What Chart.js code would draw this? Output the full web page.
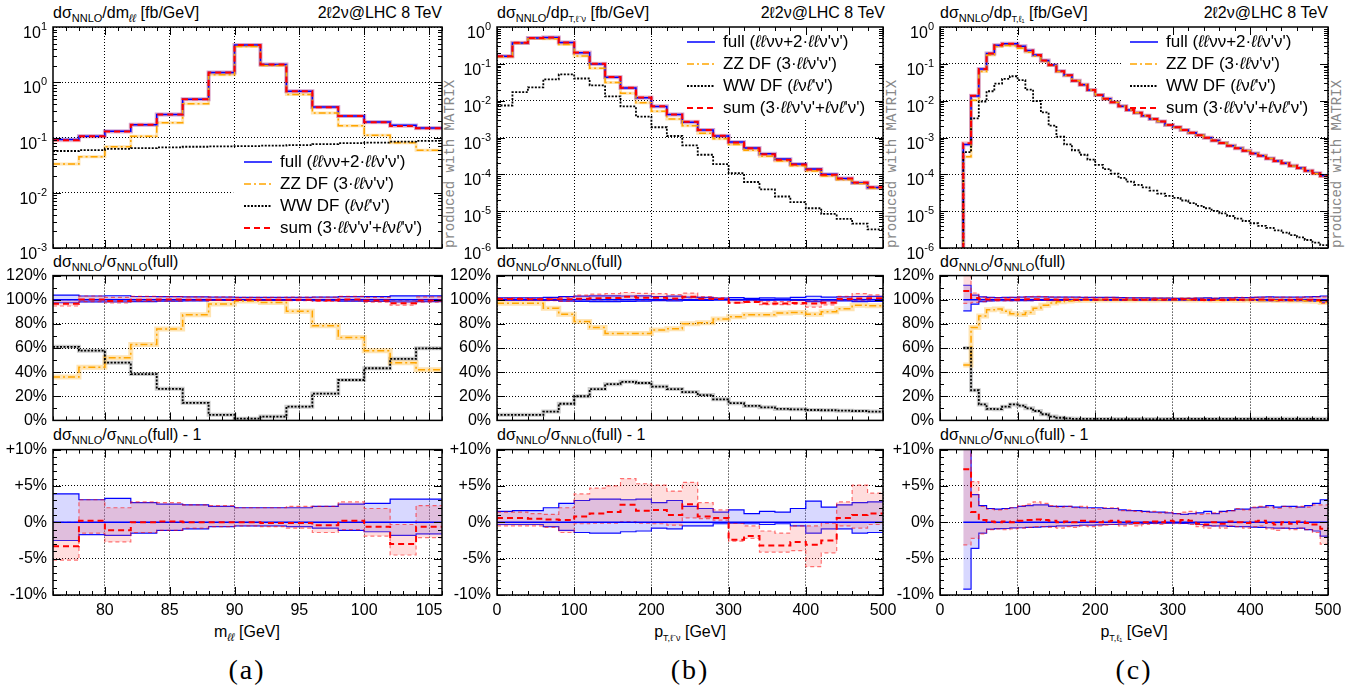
<!DOCTYPE html>
<html lang="en">
<head>
<meta charset="UTF-8">
<title>2ℓ2ν@LHC 8 TeV</title>
<script src="https://cdn.jsdelivr.net/npm/chart.js"></script>
<style>
    body { margin: 0; background: #fff; }
    #fig { position: relative; width: 1368px; height: 693px; overflow: hidden;
           font-family: "Liberation Sans", Arial, sans-serif; color: #000; }
    #fig canvas { position: absolute; }
    .txt { position: absolute; white-space: nowrap; font-size: 16px; line-height: 16px; }
    .txt .lo { font-size: 11px; position: relative; top: 4px; }
    .txt .lo2 { font-size: 9px; position: relative; top: 4px; }
    .mid { transform: translateX(-50%); }
    .tag { position: absolute; white-space: nowrap; transform: translateX(-50%);
           font-family: "Liberation Serif", "DejaVu Serif", serif; font-size: 28px; line-height: 28px; letter-spacing: 2px; }
    .matrix { position: absolute; white-space: nowrap; transform-origin: 0 0; transform: rotate(-90deg);
              font-family: "Liberation Mono", "DejaVu Sans Mono", monospace; font-size: 14px; line-height: 12px; color: #888; }
    .key { position: absolute; font-size: 17px; z-index: 2; }
    .key div { height: 22px; display: flex; align-items: center; white-space: nowrap; }
    .key svg { margin-right: 8px; }
</style>
</head>
<body>
<div id="fig">
    <div class="txt" style="left:53px;top:5px">dσ<span class="lo">NNLO</span>/dm<span class="lo"><i>ℓℓ</i></span> [fb/GeV]</div>
    <div class="txt" style="left:497px;top:5px">dσ<span class="lo">NNLO</span>/dp<span class="lo2">T,ℓ⁻ν</span> [fb/GeV]</div>
    <div class="txt" style="left:940px;top:5px">dσ<span class="lo">NNLO</span>/dp<span class="lo2">T,ℓ₁</span> [fb/GeV]</div>
    <div class="txt" style="right:926px;top:5px">2ℓ2ν@LHC 8 TeV</div>
    <div class="txt" style="right:483px;top:5px">2ℓ2ν@LHC 8 TeV</div>
    <div class="txt" style="right:40px;top:5px">2ℓ2ν@LHC 8 TeV</div>

    <div class="txt" style="left:53px;top:254px">dσ<span class="lo">NNLO</span>/σ<span class="lo">NNLO</span>(full)</div>
    <div class="txt" style="left:497px;top:254px">dσ<span class="lo">NNLO</span>/σ<span class="lo">NNLO</span>(full)</div>
    <div class="txt" style="left:940px;top:254px">dσ<span class="lo">NNLO</span>/σ<span class="lo">NNLO</span>(full)</div>

    <div class="txt" style="left:53px;top:427px">dσ<span class="lo">NNLO</span>/σ<span class="lo">NNLO</span>(full) - 1</div>
    <div class="txt" style="left:497px;top:427px">dσ<span class="lo">NNLO</span>/σ<span class="lo">NNLO</span>(full) - 1</div>
    <div class="txt" style="left:940px;top:427px">dσ<span class="lo">NNLO</span>/σ<span class="lo">NNLO</span>(full) - 1</div>

    <div class="txt mid" style="left:247px;top:624px">m<span class="lo"><i>ℓℓ</i></span> [GeV]</div>
    <div class="txt mid" style="left:690px;top:624px">p<span class="lo2">T,ℓ⁻ν</span> [GeV]</div>
    <div class="txt mid" style="left:1134px;top:624px">p<span class="lo2">T,ℓ₁</span> [GeV]</div>

    <div class="tag" style="left:247px;top:656px">(a)</div>
    <div class="tag" style="left:690px;top:656px">(b)</div>
    <div class="tag" style="left:1134px;top:656px">(c)</div>

    <div class="matrix" style="left:444px;top:248px">produced with MATRIX</div>
    <div class="matrix" style="left:886px;top:248px">produced with MATRIX</div>
    <div class="matrix" style="left:1331px;top:248px">produced with MATRIX</div>
</div>

<script>
    // ---------------- bin edges and tick labels ----------------
    const mllEdges = [76, 78, 80, 82, 84, 86, 88, 90, 92, 94, 96, 98, 100, 102, 104, 106];
    const ptlvEdges = [0, 20, 40, 60, 80, 100, 120, 140, 160, 180, 200, 220, 240, 260, 280, 300, 320, 340, 360, 380, 400, 420, 440, 460, 480, 500];
    const ptl1Edges = [30, 40, 50, 60, 70, 80, 90, 100, 110, 120, 130, 140, 150, 160, 170, 180, 190, 200, 210, 220, 230, 240, 250, 260, 270, 280, 290, 300, 310, 320, 330, 340, 350, 360, 370, 380, 390, 400, 410, 420, 430, 440, 450, 460, 470, 480, 490, 500];

    const mllTicks = [80, 85, 90, 95, 100, 105];
    const ptTicks = [0, 100, 200, 300, 400, 500];
    const mllDecades = [1e-3, 1e-2, 1e-1, 1, 10];
    const ptDecades = [1e-6, 1e-5, 1e-4, 1e-3, 1e-2, 1e-1, 1];
    const fracTicks = [0, 20, 40, 60, 80, 100, 120];
    const devTicks = [-10, -5, 0, 5, 10];

    // key entries, with the lepton symbol set in italics
    const keyLabels = ["full (<i>ℓℓ</i>νν+2·<i>ℓℓ</i>ν'ν')", "ZZ DF (3·<i>ℓℓ</i>ν'ν')", "WW DF (<i>ℓ</i>ν<i>ℓ</i>'ν')", "sum (3·<i>ℓℓ</i>ν'ν'+<i>ℓ</i>ν<i>ℓ</i>'ν')"];

    // ---------------- (a) m_ll ----------------
    const mllFull = [0.092, 0.105, 0.13, 0.17, 0.26, 0.49, 1.5, 4.7, 2.1, 0.69, 0.355, 0.245, 0.19, 0.166, 0.148];
    const mllZZ   = [0.033, 0.045, 0.068, 0.105, 0.185, 0.41, 1.37, 4.45, 2.0, 0.6, 0.277, 0.164, 0.11, 0.08, 0.059];
    const mllWW   = [0.057, 0.059, 0.062, 0.064, 0.066, 0.068, 0.069, 0.070, 0.071, 0.073, 0.076, 0.079, 0.081, 0.084, 0.087];
    const mllSum  = [0.089, 0.105, 0.129, 0.17, 0.26, 0.49, 1.5, 4.7, 2.1, 0.69, 0.354, 0.245, 0.189, 0.161, 0.147];
    const mllZZpct = [36, 44, 52, 63, 75.7, 87.6, 96.5, 99, 97.8, 90.5, 78.4, 68.6, 57.8, 47.8, 41.9];
    const mllWWpct = [61, 57.8, 47.8, 38.4, 26.2, 14.6, 4.6, 1.4, 3.2, 11.4, 22.2, 33.5, 43.2, 51, 59.7];
    const mllFullUp  = [3.9, 3.1, 3.3, 2.7, 2.5, 2.4, 2.2, 2.0, 2.0, 2.0, 2.2, 2.5, 2.6, 3.2, 3.2];
    const mllFullLow = [-2.5, -1.7, -1.8, -1.5, -1.1, -0.9, -0.6, -0.5, -0.5, -0.6, -0.8, -1.1, -1.3, -1.8, -1.6];
    const mllSumRel  = [-3.3, 0.2, -1.1, 0.0, 0.1, 0.0, 0.0, 0.0, -0.1, -0.1, -0.4, 0.2, -0.6, -3.0, -0.6];
    const mllSumUp   = [0.0, 3.1, 2.0, 2.8, 2.7, 2.4, 2.3, 2.0, 2.0, 2.2, 2.2, 2.8, 1.9, -0.3, 2.3];
    const mllSumLow  = [-5.2, -1.5, -2.7, -1.4, -1.1, -0.8, -0.6, -0.5, -0.6, -0.8, -1.4, -1.0, -1.9, -4.5, -2.1];

    // ---------------- (b) pT of l-nu ----------------
    const ptlvFull = [0.16, 0.37, 0.50, 0.52, 0.38, 0.20, 0.099, 0.043, 0.022, 0.012, 0.0069, 0.0042, 0.0026, 0.0016, 0.0011,
                      0.00075, 0.00052, 0.00036, 0.00026, 0.00019, 0.00014, 0.0001, 0.000077, 0.000059, 0.000044];
    const ptlvZZ   = [0.155, 0.36, 0.485, 0.48, 0.335, 0.164, 0.076, 0.031, 0.016, 0.0088, 0.0052, 0.0032, 0.0021, 0.0013, 0.00092,
                      0.00065, 0.00045, 0.00031, 0.00023, 0.00017, 0.000123, 0.00009, 0.000071, 0.000056, 0.000042];
    const ptlvWW   = [0.0074, 0.017, 0.023, 0.038, 0.052, 0.040, 0.026, 0.013, 0.007, 0.0037, 0.0019, 0.0011, 0.00061, 0.00034, 0.00019,
                      0.000107, 0.000062, 0.000039, 0.000025, 0.0000175, 0.000012, 0.0000084, 0.0000062, 0.0000046, 0.0000032];
    const ptlvSum  = [0.161, 0.372, 0.503, 0.522, 0.381, 0.202, 0.1, 0.0436, 0.0225, 0.0122, 0.007, 0.0042, 0.00267, 0.00161, 0.00111,
                      0.00073, 0.00051, 0.00035, 0.00025, 0.000185, 0.000136, 0.000098, 0.000077, 0.0000596, 0.0000445];
    const ptlvZZpct = [97, 97, 97, 93, 88, 82, 77, 72, 72, 72, 75, 76, 80, 81, 84, 86, 87.5, 87.5, 89, 89.5, 88, 90, 92.5, 95.5, 95];
    const ptlvWWpct = [4.6, 4.6, 4.6, 7.3, 13.8, 20, 26, 30, 32, 31, 28, 26, 23.5, 21, 17.5, 14.3, 12, 10.8, 9.5, 9.2, 8.6, 8.4, 8.1, 7.8, 7.3];
    const ptlvFullUp  = [1.5, 1.6, 1.6, 2.0, 2.6, 3.0, 3.2, 3.2, 3.1, 3.2, 2.7, 3.0, 2.2, 1.9, 1.4, 1.7, 1.2, 1.5, 1.4, 1.9, 2.9, 2.1, 2.4, 2.7, 2.8];
    const ptlvFullLow = [-0.3, -0.3, -0.3, -0.6, -1.1, -1.4, -1.5, -1.5, -1.3, -1.2, -0.8, -0.9, -0.5, -0.5, -0.2, -0.1, -0.2, -0.3, -0.2, -0.5, -1.5, -0.9, -0.9, -1.5, -1.4];
    const ptlvSumRel  = [0.6, 0.6, 0.5, 0.4, 0.3, 0.8, 1.2, 1.4, 2.4, 1.6, 1.7, 1.0, 2.5, 0.8, 0.6, -2.4, -1.9, -3.2, -3.2, -2.7, -3.1, -2.5, 0.6, 1.0, 1.2];
    const ptlvSumUp   = [1.4, 1.4, 1.2, 1.1, 2.0, 3.9, 4.7, 5.0, 6.0, 5.3, 5.1, 4.3, 5.5, 2.7, 1.7, -0.1, -0.5, -1.2, -1.5, -0.5, -0.5, -0.1, 2.8, 5.1, 4.0];
    const ptlvSumLow  = [-0.5, -0.5, -0.5, -0.7, -1.4, -0.2, -0.1, -0.1, 0.1, -0.1, -0.2, -0.4, 0.6, 0.5, 0.3, -2.6, -2.2, -4.1, -4.1, -3.9, -6.1, -4.2, -0.5, -0.8, -0.3];

    // ---------------- (c) pT of the leading lepton ----------------
    const ptl1Full = [0.00065, 0.0134, 0.072, 0.19, 0.32, 0.35, 0.35, 0.30, 0.23, 0.174, 0.123, 0.093, 0.063, 0.049, 0.035,
                      0.027, 0.0196, 0.0142, 0.0112, 0.0091, 0.0070, 0.0056, 0.0047, 0.0039, 0.0032, 0.0027, 0.0022, 0.0019, 0.0016, 0.00135,
                      0.00115, 0.00098, 0.00083, 0.00071, 0.0006, 0.00051, 0.00044, 0.00037, 0.00032, 0.00027, 0.00023, 0.0002, 0.00017, 0.000148, 0.000125,
                      0.000107, 0.000091];
    const ptl1ZZ   = [0.0003, 0.0103, 0.0623, 0.174, 0.296, 0.317, 0.309, 0.263, 0.206, 0.162, 0.117, 0.0905, 0.062, 0.0485, 0.0348,
                      0.0269, 0.0195, 0.0142, 0.0111, 0.0091, 0.0070, 0.0056, 0.0047, 0.0039, 0.0032, 0.0027, 0.0022, 0.0019, 0.0016, 0.00135,
                      0.00115, 0.00098, 0.00083, 0.00071, 0.0006, 0.00051, 0.00044, 0.00037, 0.00032, 0.00027, 0.00023, 0.0002, 0.000169, 0.000147, 0.000124,
                      0.000106, 0.000089];
    const ptl1WW   = [0.0004, 0.0033, 0.0095, 0.018, 0.029, 0.039, 0.046, 0.036, 0.020, 0.0098, 0.0048, 0.0021, 0.00105, 0.00065, 0.00045,
                      0.00034, 0.00025, 0.00018, 0.000138, 0.000105, 0.00008, 0.000063, 0.000052, 0.000044, 0.000036, 0.00003, 0.000026, 0.000023, 0.0000195, 0.0000165,
                      0.000014, 0.000012, 0.0000102, 0.0000087, 0.0000074, 0.0000063, 0.0000054, 0.0000047, 0.000004, 0.0000035, 0.000003, 0.0000026, 0.00000225, 0.00000195, 0.00000165,
                      0.0000014, 0.0000012];
    const ptl1Sum  = [0.0007, 0.0136, 0.0722, 0.19, 0.32, 0.35, 0.35, 0.301, 0.231, 0.175, 0.123, 0.093, 0.063, 0.049, 0.035,
                      0.027, 0.0196, 0.0142, 0.0112, 0.0091, 0.0070, 0.0056, 0.0047, 0.0039, 0.0032, 0.0027, 0.0022, 0.0019, 0.0016, 0.00135,
                      0.00115, 0.00098, 0.00083, 0.00071, 0.0006, 0.00051, 0.00044, 0.00037, 0.00032, 0.00027, 0.00023, 0.0002, 0.00017, 0.000148, 0.000125,
                      0.000107, 0.00009];
    const ptl1ZZpct = [46, 77, 86.5, 91.6, 92.4, 90.5, 88.4, 87.8, 89.5, 93, 95.4, 97.3, 98.4, 99, 99.3, 99.5, 99.6, 99.8, 99.7, 99.8,
                       99.9, 99.8, 99.9, 100, 99.8, 99.9, 100, 100, 99.9, 99.8, 100, 99.7, 99.6, 99.8, 99.7, 99.5, 99.8, 99.6, 99.4, 99.7,
                       99.3, 99.5, 99.2, 99.4, 99.0, 98.8, 97.8];
    const ptl1WWpct = [60, 25, 13.2, 9.5, 9.3, 11.4, 13.2, 12.2, 10, 7.8, 5.1, 3.2, 2.2, 1.6, 1.3, 1.2, 1.2, 1.2, 1.2, 1.1,
                       1.1, 1.1, 1.1, 1.1, 1.1, 1.1, 1.2, 1.2, 1.2, 1.2, 1.2, 1.2, 1.2, 1.2, 1.2, 1.2, 1.2, 1.3, 1.3, 1.3,
                       1.3, 1.3, 1.3, 1.3, 1.3, 1.3, 1.3];
    const ptl1FullUp  = [12, 3.8, 2.3, 1.9, 1.8, 1.9, 2.0, 2.2, 2.3, 2.4, 2.4, 2.2, 2.2, 2.2, 2.1, 2.0, 2.0, 2.0, 1.9, 1.9,
                         1.7, 1.6, 1.6, 1.5, 1.4, 1.4, 1.3, 1.2, 1.1, 1.2, 1.3, 1.5, 1.2, 1.5, 1.6, 1.8, 1.8, 2.0, 2.1, 2.3,
                         2.1, 2.2, 2.2, 2.1, 2.3, 2.6, 3.1];
    const ptl1FullLow = [-9.2, -3.6, -1.5, -0.95, -0.86, -0.85, -0.77, -0.75, -0.7, -0.65, -0.6, -0.55, -0.5, -0.5, -0.45, -0.4, -0.4, -0.35, -0.3, -0.3,
                         -0.25, -0.2, -0.2, -0.15, -0.15, -0.1, -0.1, -0.1, -0.15, -0.2, -0.3, -0.45, -0.5, -0.5, -0.55, -0.6, -0.6, -0.65, -0.7, -0.75,
                         -0.8, -0.8, -0.85, -0.8, -1.0, -1.2, -1.9];
    const ptl1SumRel  = [7.3, 1.4, 0.3, 0.1, 0.0, 0.1, 0.0, 0.2, 0.3, 0.4, 0.3, 0.2, 0.0, 0.1, 0.0, 0.2, 0.1, 0.0, 0.1, 0.2,
                         0.0, 0.1, -0.1, 0.0, 0.1, 0.0, 0.2, 0.1, 0.3, 0.2, -0.2, -0.3, 0.0, -0.2, 0.1, 0.0, -0.1, 0.1, 0.2, -0.1,
                         -0.3, 0.0, -0.2, 0.1, -0.1, -0.3, -0.9];
    const ptl1SumUp   = [21, 5.6, 2.2, 1.8, 1.7, 1.8, 2.0, 2.3, 2.5, 2.8, 2.6, 2.3, 2.1, 2.2, 2.0, 2.2, 1.9, 1.8, 2.0, 2.0,
                         1.6, 1.7, 1.5, 1.4, 1.5, 1.3, 1.4, 1.2, 1.4, 1.5, 1.1, 1.2, 1.3, 1.4, 1.6, 1.9, 1.7, 2.1, 2.2, 2.1,
                         1.9, 2.2, 2.0, 2.2, 2.1, 2.4, 2.4];
    const ptl1SumLow  = [-3.1, -2.2, -1.6, -1.0, -0.9, -1.0, -0.9, -0.8, -0.7, -0.6, -0.6, -0.7, -0.8, -0.6, -0.7, -0.5, -0.6, -0.5, -0.4, -0.3,
                         -0.5, -0.3, -0.5, -0.3, -0.2, -0.3, -0.1, -0.2, -0.1, -0.3, -0.6, -0.8, -0.5, -0.8, -0.5, -0.6, -0.8, -0.6, -0.5, -0.9,
                         -1.1, -0.8, -1.0, -0.8, -1.0, -1.4, -3.0];

    // ---------------- layout ----------------
    const COL = { a: { l: 53, r: 442 }, b: { l: 497, r: 883 }, c: { l: 940, r: 1328 } };
    const ROW = { top: { t: 27, b: 248 }, mid: { t: 274, b: 422 }, bot: { t: 448, b: 595 } };
    const PAD_L = 60, PAD_R = 24, PAD_T = 14, PAD_B = 14, X_H = 28;
    const FONT = { family: '"Liberation Sans", Arial, sans-serif', size: 16 };

    const panels = {
        a: { edges: mllEdges, xMin: 76, xMax: 106, xTicks: mllTicks, xMinor: 1, xMajor: 5,
             yMin: 1e-3, yMax: 10, decades: mllDecades, drop: false,
             full: mllFull, zz: mllZZ, ww: mllWW, sum: mllSum, zzPct: mllZZpct, wwPct: mllWWpct,
             fullUp: mllFullUp, fullLow: mllFullLow, sumRel: mllSumRel, sumUp: mllSumUp, sumLow: mllSumLow,
             box: { x0: 89.9, x1: 106, y0: 1e-3, y1: 0.064 }, key: [244, 151] },
        b: { edges: ptlvEdges, xMin: 0, xMax: 500, xTicks: ptTicks, xMinor: 20, xMajor: 100,
             yMin: 1e-6, yMax: 1, decades: ptDecades, drop: false,
             full: ptlvFull, zz: ptlvZZ, ww: ptlvWW, sum: ptlvSum, zzPct: ptlvZZpct, wwPct: ptlvWWpct,
             fullUp: ptlvFullUp, fullLow: ptlvFullLow, sumRel: ptlvSumRel, sumUp: ptlvSumUp, sumLow: ptlvSumLow,
             box: { x0: 237, x1: 500, y0: 0.003, y1: 1 }, key: [687, 31] },
        c: { edges: ptl1Edges, xMin: 0, xMax: 500, xTicks: ptTicks, xMinor: 20, xMajor: 100,
             yMin: 1e-6, yMax: 1, decades: ptDecades, drop: true,
             full: ptl1Full, zz: ptl1ZZ, ww: ptl1WW, sum: ptl1Sum, zzPct: ptl1ZZpct, wwPct: ptl1WWpct,
             fullUp: ptl1FullUp, fullLow: ptl1FullLow, sumRel: ptl1SumRel, sumUp: ptl1SumUp, sumLow: ptl1SumLow,
             box: { x0: 234, x1: 500, y0: 0.003, y1: 1 }, key: [1130, 31] }
    };

    const STY = {
        full: { borderColor: '#0000ff', borderWidth: 1.5 },
        zz:   { borderColor: '#ffa500', borderWidth: 1.5, borderDash: [7, 3, 2, 3] },
        ww:   { borderColor: '#000000', borderWidth: 1.8, borderDash: [2, 1.5] },
        sum:  { borderColor: '#ff0000', borderWidth: 2, borderDash: [6, 4] }
    };
    const BLUE_EDGE = { borderColor: '#0000ff', borderWidth: 1.2 };
    const RED_EDGE = { borderColor: 'rgba(255,0,0,0.55)', borderWidth: 1.2, borderDash: [4, 3] };
    const BLUE_FILL = 'rgba(100,100,255,0.25)';
    const RED_FILL = 'rgba(255,100,100,0.22)';

    // histogram outline: one point per left bin edge, closed at the last edge
    function hist(edges, vals, base) {
        const b = base || 0;
        const pts = vals.map((v, i) => ({ x: edges[i], y: b + v }));
        pts.push({ x: edges[vals.length], y: b + vals[vals.length - 1] });
        return pts;
    }
    function flat(edges, v) {
        return [{ x: edges[0], y: v }, { x: edges[edges.length - 1], y: v }];
    }

    // ---------------- plugins ----------------
    const framePlugin = {
        id: 'frame',
        afterDatasetsDraw(chart, args, o) {
            if (!o || o.xMinor === undefined) return;
            const { ctx, chartArea: a } = chart;
            const xs = chart.scales.x, ys = chart.scales.y;
            const near = (v, step) => Math.abs(v / step - Math.round(v / step)) < 1e-6;
            ctx.save();
            ctx.strokeStyle = '#000';
            ctx.lineWidth = 1;
            ctx.setLineDash([]);
            ctx.beginPath();
            for (let k = Math.ceil(xs.min / o.xMinor - 1e-9); k * o.xMinor <= xs.max + 1e-9; k++) {
                const v = k * o.xMinor;
                const px = Math.round(xs.getPixelForValue(v)) + 0.5;
                const len = near(v, o.xMajor) ? 8 : 4;
                ctx.moveTo(px, a.bottom); ctx.lineTo(px, a.bottom - len);
                ctx.moveTo(px, a.top); ctx.lineTo(px, a.top + len);
            }
            const yTick = (v, len) => {
                const py = Math.round(ys.getPixelForValue(v)) + 0.5;
                ctx.moveTo(a.left, py); ctx.lineTo(a.left + len, py);
                ctx.moveTo(a.right, py); ctx.lineTo(a.right - len, py);
            };
            if (o.log) {
                const d0 = Math.round(Math.log10(ys.min)), d1 = Math.round(Math.log10(ys.max));
                for (let d = d0; d < d1; d++) {
                    for (let m = 1; m < 10; m++) yTick(m * Math.pow(10, d), m === 1 ? 8 : 4);
                }
            } else {
                for (let k = Math.ceil(ys.min / o.yMinor - 1e-9); k * o.yMinor <= ys.max + 1e-9; k++) {
                    const v = k * o.yMinor;
                    yTick(v, near(v, o.yMajor) ? 8 : 4);
                }
            }
            ctx.stroke();
            ctx.lineWidth = 1.5;
            ctx.strokeRect(a.left, a.top, a.right - a.left, a.bottom - a.top);
            ctx.restore();
        }
    };

    // "10" with a raised exponent for the log axes
    const powLabels = {
        id: 'powLabels',
        afterDraw(chart, args, o) {
            if (!o || !o.values) return;
            const { ctx, chartArea: a } = chart;
            const ys = chart.scales.y;
            ctx.save();
            ctx.fillStyle = '#000';
            ctx.textAlign = 'right';
            ctx.textBaseline = 'alphabetic';
            o.values.forEach(v => {
                const e = String(Math.round(Math.log10(v)));
                const y = ys.getPixelForValue(v);
                const right = a.left - 6;
                ctx.font = '11px "Liberation Sans", Arial, sans-serif';
                const ew = ctx.measureText(e).width;
                ctx.fillText(e, right, y + 3);
                ctx.font = '16px "Liberation Sans", Arial, sans-serif';
                ctx.fillText('10', right - ew, y + 11);
            });
            ctx.restore();
        }
    };

    // white area behind the key, drawn over the grid but under the curves
    const keyBox = {
        id: 'keyBox',
        beforeDatasetsDraw(chart, args, o) {
            if (!o || o.x0 === undefined) return;
            const xs = chart.scales.x, ys = chart.scales.y;
            const l = xs.getPixelForValue(o.x0), r = xs.getPixelForValue(o.x1);
            const t = ys.getPixelForValue(o.y1), b = ys.getPixelForValue(o.y0);
            chart.ctx.save();
            chart.ctx.fillStyle = '#fff';
            chart.ctx.fillRect(l, t, r - l, b - t);
            chart.ctx.restore();
        }
    };

    Chart.register(framePlugin, powLabels, keyBox);

    const fig = document.getElementById('fig');

    function makeCanvas(col, row) {
        const c = COL[col], r = ROW[row];
        const w = c.r - c.l + PAD_L + PAD_R;
        const h = r.b - r.t + PAD_T + (row === 'bot' ? X_H + 4 : PAD_B);
        const cv = document.createElement('canvas');
        cv.width = w; cv.height = h;
        cv.style.left = (c.l - PAD_L) + 'px';
        cv.style.top = (r.t - PAD_T) + 'px';
        cv.style.width = w + 'px';
        cv.style.height = h + 'px';
        fig.appendChild(cv);
        return cv;
    }

    function makeChart(col, row, datasets, y, plugins) {
        const p = panels[col];
        const bottom = row === 'bot';
        return new Chart(makeCanvas(col, row), {
            type: 'line',
            data: { datasets: datasets },
            options: {
                responsive: false,
                animation: false,
                events: [],
                layout: { padding: { left: 0, right: PAD_R, top: PAD_T, bottom: bottom ? 4 : PAD_B } },
                elements: {
                    point: { radius: 0 },
                    line: { stepped: true, tension: 0, fill: false, borderJoinStyle: 'miter', borderCapStyle: 'butt' }
                },
                plugins: Object.assign({ legend: { display: false }, tooltip: { enabled: false } }, plugins),
                scales: {
                    x: {
                        type: 'linear', min: p.xMin, max: p.xMax,
                        afterFit: s => { s.height = bottom ? X_H : 0; },
                        afterBuildTicks: s => { s.ticks = p.xTicks.map(v => ({ value: v })); },
                        grid: { color: '#000', lineWidth: 1, drawTicks: false },
                        border: { display: false, dash: [1, 2] },
                        ticks: { display: bottom, padding: 6, color: '#000', font: FONT, autoSkip: false, maxRotation: 0 }
                    },
                    y: Object.assign({
                        afterFit: s => { s.width = PAD_L; },
                        grid: { color: '#000', lineWidth: 1, drawTicks: false },
                        border: { display: false, dash: [1, 2] }
                    }, y)
                }
            }
        });
    }

    function topPanel(col) {
        const p = panels[col];
        const h = vals => {
            const pts = hist(p.edges, vals);
            if (p.drop) pts.unshift({ x: p.edges[0], y: 1e-12 });
            return pts;
        };
        const datasets = [
            Object.assign({ data: h(p.sum), order: 0 }, STY.sum),
            Object.assign({ data: h(p.ww), order: 1 }, STY.ww),
            Object.assign({ data: h(p.zz), order: 2 }, STY.zz),
            Object.assign({ data: h(p.full), order: 3 }, STY.full),
            { data: h(p.sum), borderColor: 'rgba(255,0,0,0.2)', borderWidth: 4, order: 8 },
            { data: h(p.full), borderColor: 'rgba(0,0,255,0.2)', borderWidth: 4, order: 9 },
            { data: h(p.zz), borderColor: 'rgba(255,165,0,0.3)', borderWidth: 3, order: 10 }
        ];
        makeChart(col, 'top', datasets, {
            type: 'logarithmic', min: p.yMin, max: p.yMax,
            afterBuildTicks: s => { s.ticks = p.decades.map(v => ({ value: v })); },
            ticks: { display: false }
        }, {
            frame: { xMinor: p.xMinor, xMajor: p.xMajor, log: true },
            powLabels: { values: p.decades },
            keyBox: p.box
        });
    }

    function bandSets(p, base) {
        return [
            Object.assign({ data: hist(p.edges, p.sumUp, base), fill: '+1', backgroundColor: RED_FILL, order: 7 }, RED_EDGE),
            Object.assign({ data: hist(p.edges, p.sumLow, base), order: 7 }, RED_EDGE),
            Object.assign({ data: hist(p.edges, p.fullUp, base), fill: '+1', backgroundColor: BLUE_FILL, order: 8 }, BLUE_EDGE),
            Object.assign({ data: hist(p.edges, p.fullLow, base), order: 8 }, BLUE_EDGE)
        ];
    }

    function midPanel(col) {
        const p = panels[col];
        const datasets = bandSets(p, 100).concat([
            Object.assign({ data: hist(p.edges, p.zzPct), order: 2 }, STY.zz),
            Object.assign({ data: hist(p.edges, p.wwPct), order: 1 }, STY.ww),
            { data: hist(p.edges, p.zzPct), borderColor: 'rgba(255,165,0,0.3)', borderWidth: 5, order: 9 },
            { data: hist(p.edges, p.wwPct), borderColor: 'rgba(0,0,0,0.2)', borderWidth: 4, order: 9 },
            Object.assign({ data: flat(p.edges, 100), order: 3 }, STY.full),
            Object.assign({ data: hist(p.edges, p.sumRel, 100), order: 0 }, STY.sum)
        ]);
        makeChart(col, 'mid', datasets, {
            type: 'linear', min: 0, max: 120,
            afterBuildTicks: s => { s.ticks = fracTicks.map(v => ({ value: v })); },
            ticks: { padding: 6, color: '#000', font: FONT, autoSkip: false, callback: v => v + '%' }
        }, {
            frame: { xMinor: p.xMinor, xMajor: p.xMajor, yMinor: 10, yMajor: 20 }
        });
    }

    function botPanel(col) {
        const p = panels[col];
        const datasets = bandSets(p, 0).concat([
            Object.assign({ data: flat(p.edges, 0), order: 3 }, STY.full),
            Object.assign({ data: hist(p.edges, p.sumRel), order: 0 }, STY.sum)
        ]);
        makeChart(col, 'bot', datasets, {
            type: 'linear', min: -10, max: 10,
            afterBuildTicks: s => { s.ticks = devTicks.map(v => ({ value: v })); },
            ticks: { padding: 6, color: '#000', font: FONT, autoSkip: false,
                     callback: v => (v > 0 ? '+' : '') + v + '%' }
        }, {
            frame: { xMinor: p.xMinor, xMajor: p.xMajor, yMinor: 1, yMajor: 5 }
        });
    }

    const keyStrokes = [
        { color: '#0000ff', width: 1.5, dash: '' },
        { color: '#ffa500', width: 1.5, dash: '7 3 2 3' },
        { color: '#000000', width: 1.8, dash: '2 1.5' },
        { color: '#ff0000', width: 2, dash: '6 4' }
    ];

    function drawKey(col) {
        const [left, top] = panels[col].key;
        const box = document.createElement('div');
        box.className = 'key';
        box.style.left = left + 'px';
        box.style.top = top + 'px';
        keyLabels.forEach((label, i) => {
            const s = keyStrokes[i];
            const row = document.createElement('div');
            row.innerHTML = '<svg width="28" height="10"><line x1="0" y1="5" x2="28" y2="5" stroke="' + s.color +
                '" stroke-width="' + s.width + '" stroke-dasharray="' + s.dash + '"/></svg><span>' + label + '</span>';
            box.appendChild(row);
        });
        fig.appendChild(box);
    }

    ['a', 'b', 'c'].forEach(col => {
        topPanel(col);
        midPanel(col);
        botPanel(col);
        drawKey(col);
    });
</script>
</body>
</html>
